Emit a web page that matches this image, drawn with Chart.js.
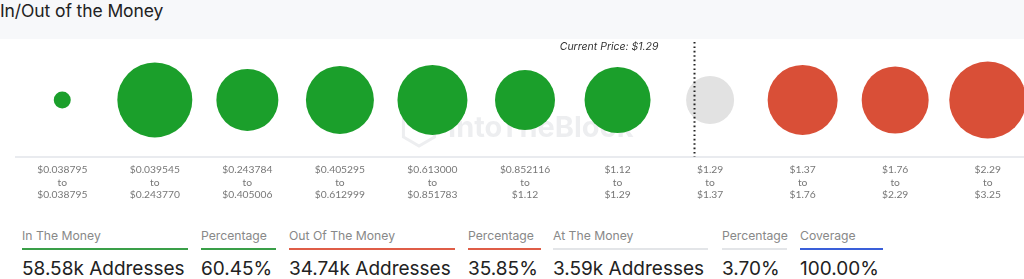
<!DOCTYPE html>
<html>
<head>
<meta charset="utf-8">
<title>In/Out of the Money</title>
<script src="https://cdn.jsdelivr.net/npm/chart.js@4/dist/chart.umd.min.js"></script>
<style>
  html, body { margin: 0; padding: 0; background: #fff; overflow: hidden; width: 1024px; height: 279px; }
  body { position: relative; font-family: Inter, "Noto Sans", sans-serif; }
  .header { position: absolute; left: 0; top: 0; width: 1024px; height: 39px; background: #f7f8fa; }
  .header h1 { margin: 0; position: absolute; left: 0; top: 0px; font: 400 17.5px Inter, sans-serif; color: #222; letter-spacing: -0.1px; }
  .chartBox { position: absolute; left: 0; top: 39px; width: 1040px; height: 169px; }
  .stats { position: absolute; left: 0; top: 226px; height: 53px; width: 1024px; }
  .stat { position: absolute; top: 0; }
  .stat .lbl { font-size: 12.2px; color: #888; height: 22px; line-height: 20px; white-space: nowrap; }
  .stat .bar { height: 2px; }
  .stat .val { font-size: 19px; color: #222; line-height: 24px; margin-top: 7px; white-space: nowrap; }
</style>
</head>
<body>
<div class="header"><h1>In/Out of the Money</h1></div>
<div class="chartBox"><canvas id="iomChart"></canvas></div>
<div class="stats" id="stats"></div>

<script>
(() => {
  "use strict";

  // ---------- dados ----------
  const priceFrom = ["$0.038795", "$0.039545", "$0.243784", "$0.405295", "$0.613000", "$0.852116",
                     "$1.12", "$1.29", "$1.37", "$1.76", "$2.29"];
  const priceTo   = ["$0.038795", "$0.243770", "$0.405006", "$0.612999", "$0.851783", "$1.12",
                     "$1.29", "$1.37", "$1.76", "$2.29", "$3.25"];
  const bubbleRadius = [8.5, 37.5, 31, 34, 35, 30, 33, 24, 35, 33.5, 38.5];
  const bucketState  = ["in", "in", "in", "in", "in", "in", "in", "at", "out", "out", "out"];
  const currentPrice = "$1.29";
  const currentPricePos = 6.83; // posição na escala de categorias

  const statLabels = ["In The Money", "Percentage", "Out Of The Money", "Percentage", "At The Money", "Percentage", "Coverage"];
  const statValues = ["58.58k Addresses", "60.45%", "34.74k Addresses", "35.85%", "3.59k Addresses", "3.70%", "100.00%"];
  const statKind   = ["in", "in", "out", "out", "at", "at", "cov"];

  // ---------- estilos ----------
  const COLORS = { in: "#1b9f2b", out: "#d94f37", at: "#e2e2e2", cov: "#3a5fd9" };
  const BAR_COLORS = { in: "#3a9f48", out: "#df5d47", at: "#e3e5e8", cov: "#3a5fd9" };
  const statX = [22, 201, 289, 468, 553, 722, 800];
  const statW = [166, 75, 166, 73, 155, 65, 83];

  // ---------- cards de baixo ----------
  const box = document.getElementById("stats");
  statLabels.forEach((lbl, i) => {
    const d = document.createElement("div");
    d.className = "stat";
    d.style.left = statX[i] + "px";
    d.style.width = statW[i] + "px";
    d.innerHTML = `<div class="lbl">${lbl}</div>
      <div class="bar" style="background:${BAR_COLORS[statKind[i]]}"></div>
      <div class="val">${statValues[i]}</div>`;
    box.appendChild(d);
  });

  // ---------- plugin: marca d'água + linha do preço atual ----------
  const overlay = {
    id: "overlay",
    beforeDatasetsDraw(chart) {
      const { ctx } = chart;
      ctx.save();
      ctx.fillStyle = "rgba(20,30,50,0.075)";
      ctx.font = "700 29px Inter, sans-serif";
      ctx.textBaseline = "middle";
      ctx.fillText("IntoTheBlock", 448, 89);
      ctx.strokeStyle = "rgba(20,30,50,0.075)";
      ctx.lineWidth = 3;
      ctx.beginPath();
      const cx = 419, cy = 89, s = 18;
      for (let k = 0; k < 6; k++) {
        const a = Math.PI / 6 + k * Math.PI / 3;
        const px = cx + s * Math.cos(a), py = cy + s * Math.sin(a);
        k ? ctx.lineTo(px, py) : ctx.moveTo(px, py);
      }
      ctx.closePath();
      ctx.stroke();
      ctx.restore();
    },
    afterDatasetsDraw(chart) {
      const { ctx, chartArea, scales } = chart;
      const x = Math.round(scales.x.getPixelForValue(currentPricePos)) + 0.5;
      ctx.save();
      ctx.strokeStyle = "#222";
      ctx.lineWidth = 2;
      ctx.setLineDash([1.6, 2.8]);
      ctx.beginPath();
      ctx.moveTo(x, 3);
      ctx.lineTo(x, chartArea.bottom);
      ctx.stroke();
      ctx.setLineDash([]);
      ctx.fillStyle = "#333";
      ctx.font = "italic 10.5px Inter, sans-serif";
      ctx.textAlign = "right";
      ctx.textBaseline = "middle";
      ctx.fillText(`Current Price: ${currentPrice}`, x - 36, 8);
      ctx.restore();
    }
  };

  // ---------- gráfico ----------
  const labels = priceFrom.map((p, i) => [p, "to", priceTo[i]]);
  const points = bubbleRadius.map((r, i) => ({ x: i, y: 0, r }));

  new Chart(document.getElementById("iomChart"), {
    type: "bubble",
    data: {
      labels,
      datasets: [{
        data: points,
        backgroundColor: bucketState.map(s => COLORS[s]),
        borderWidth: 0,
        hoverBorderWidth: 0,
        clip: false
      }]
    },
    options: {
      responsive: true,
      maintainAspectRatio: false,
      animation: false,
      layout: { autoPadding: false, padding: { left: 16, right: 6, top: 4, bottom: 0 } },
      plugins: { legend: { display: false }, tooltip: { enabled: false } },
      scales: {
        x: {
          type: "category",
          offset: true,
          grid: { display: false, drawTicks: false },
          border: { display: true, color: "#e9ebef", width: 2 },
          ticks: {
            color: "#777",
            font: { family: "Lato, sans-serif", size: 10.3, lineHeight: 1.2 },
            padding: 7,
            maxRotation: 0,
            autoSkip: false
          }
        },
        y: { display: false, min: -1, max: 1 }
      }
    },
    plugins: [overlay]
  });
})();
</script>
</body>
</html>
